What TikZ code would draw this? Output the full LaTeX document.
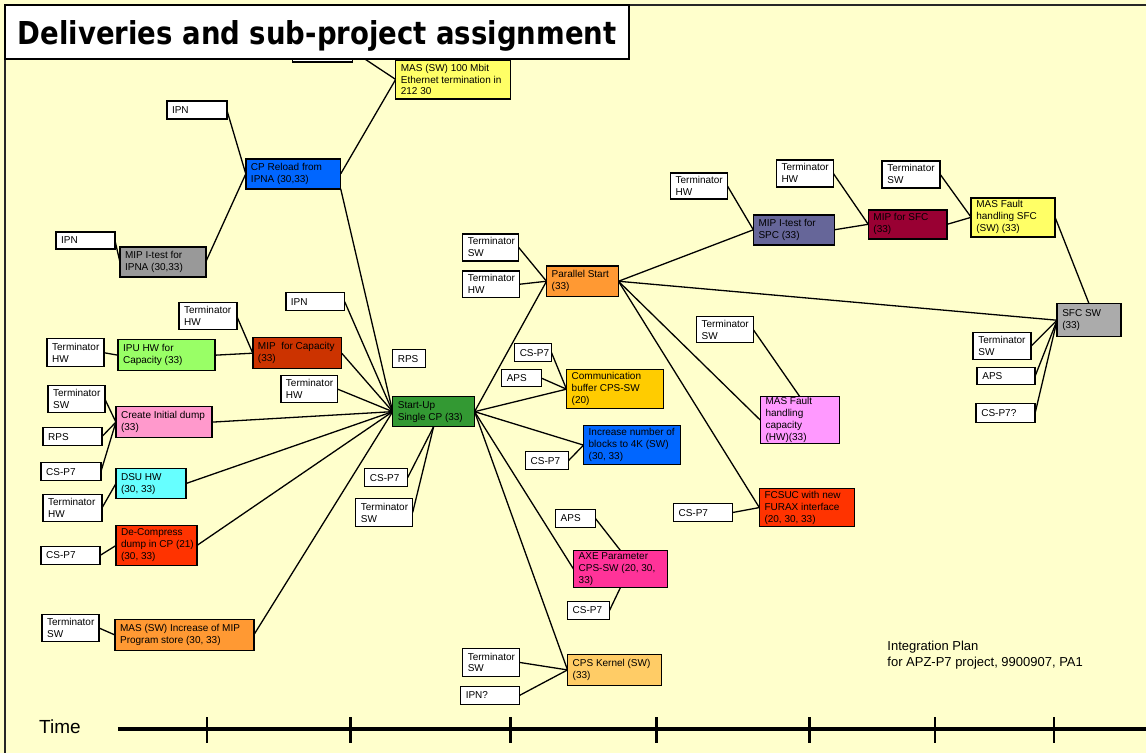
\documentclass[tikz,border=0pt]{standalone}
\usepackage{fontspec}
\setmainfont{Liberation Sans}
\newfontfamily\headfont{DejaVu Sans}
\usetikzlibrary{calc}

\definecolor{paper}{HTML}{FFFFCC}
\definecolor{cblue}{HTML}{0066FF}
\definecolor{cgray}{HTML}{999999}
\definecolor{cgraylt}{HTML}{ABABAB}
\definecolor{cyellow}{HTML}{FFFF66}
\definecolor{crust}{HTML}{CC3300}
\definecolor{clime}{HTML}{99FF66}
\definecolor{cpink}{HTML}{FF99CC}
\definecolor{ccyan}{HTML}{66FFFF}
\definecolor{cred}{HTML}{FF3300}
\definecolor{corange}{HTML}{FF9933}
\definecolor{cgreen}{HTML}{339933}
\definecolor{cgold}{HTML}{FFCC00}
\definecolor{cmagenta}{HTML}{FF3399}
\definecolor{capricot}{HTML}{FFCC66}
\definecolor{cviolet}{HTML}{FF99FF}
\definecolor{cslate}{HTML}{666699}
\definecolor{ccrimson}{HTML}{990033}

\pgfdeclarelayer{bg}
\pgfdeclarelayer{paperlayer}
\pgfsetlayers{paperlayer,bg,main}

% box: name, left, top, right, bottom, fill, text
\newcommand\mkbox[7]{%
  \node[boxst, fill=#6, minimum width={#4-#2}, minimum height={#5-#3}] (#1) at ({(#2+#4)/2},{(#3+#5)/2}) {};
  \node[txtst, anchor=west] (#1-t) at ({#2+5},{(#3+#5)/2}) {#7};
}

\begin{document}
\begin{tikzpicture}[x=1pt,y=-1pt,
  boxst/.style={draw=black, line width=1.5pt, rectangle, inner sep=0pt, outer sep=0pt},
  txtst/.style={align=left, inner sep=0pt, font=\fontsize{10}{12}\selectfont, text=black},
  link/.style={line width=1.3pt, black},
  tick/.style={line width=2.5pt, black}]

\begin{pgfonlayer}{paperlayer}
\fill[paper] (0,0) rectangle (1147,754);
% page frame (top and left edges)
\draw[line width=2pt, black!85] (1147,5) -- (5,5) -- (5,754);
\end{pgfonlayer}
\useasboundingbox (0,0) rectangle (1147,754);

% ---- upper left branch
\mkbox{hid}{293}{40}{353}{62}{white}{}
\mkbox{mas100}{396}{60}{511}{99}{cyellow}{MAS (SW) 100 Mbit\\Ethernet termination in\\212 30}
\mkbox{ipnA}{167}{101}{227}{119}{white}{IPN}
\mkbox{cpr}{246}{159}{341}{189}{cblue}{CP Reload from\\IPNA (30,33)}
\mkbox{ipnB}{56}{232}{115}{249}{white}{IPN}
\mkbox{mipipna}{120}{247}{206}{277}{cgray}{MIP I-test for\\IPNA (30,33)}

% ---- left branch
\mkbox{ipnC}{286}{293}{345}{311}{white}{IPN}
\mkbox{thwA}{179}{303}{237}{330}{white}{Terminator\\HW}
\mkbox{mipcap}{253}{338}{342}{369}{crust}{MIP\ \ for Capacity\\(33)}
\mkbox{thwB}{47}{339}{104}{367}{white}{Terminator\\HW}
\mkbox{ipu}{118}{340}{215}{371}{clime}{IPU HW for\\Capacity (33)}
\mkbox{thwC}{281}{376}{338}{403}{white}{Terminator\\HW}
\mkbox{tswA}{48}{386}{105}{413}{white}{Terminator\\SW}
\mkbox{cid}{116}{407}{212}{438}{cpink}{Create Initial dump\\(33)}
\mkbox{rpsA}{43}{428}{102}{446}{white}{RPS}
\mkbox{cspA}{41}{463}{101}{481}{white}{CS-P7}
\mkbox{dsu}{116}{469}{186}{499}{ccyan}{DSU HW\\(30, 33)}
\mkbox{thwD}{43}{495}{102}{522}{white}{Terminator\\HW}
\mkbox{decomp}{116}{526}{197}{566}{cred}{De-Compress\\dump in CP (21)\\(30, 33)}
\mkbox{cspB}{41}{547}{100}{565}{white}{CS-P7}
\mkbox{tswB}{42}{615}{99}{642}{white}{Terminator\\SW}
\mkbox{masinc}{115}{620}{254}{651}{corange}{MAS (SW) Increase of MIP\\Program store (30, 33)}

% ---- centre
\mkbox{rpsB}{393}{350}{426}{368}{white}{RPS}
\mkbox{su}{393}{397}{475}{427}{cgreen}{Start-Up\\Single CP (33)}
\mkbox{cspC}{365}{469}{408}{487}{white}{CS-P7}
\mkbox{tswC}{356}{499}{413}{527}{white}{Terminator\\SW}

% ---- right of start-up
\mkbox{tswE}{463}{234}{519}{261}{white}{Terminator\\SW}
\mkbox{thwE}{463}{271}{520}{298}{white}{Terminator\\HW}
\mkbox{ps}{547}{266}{619}{297}{corange}{Parallel Start\\(33)}
\mkbox{cspD}{515}{344}{552}{362}{white}{CS-P7}
\mkbox{apsA}{502}{370}{542}{387}{white}{APS}
\mkbox{comm}{567}{370}{664}{409}{cgold}{Communication\\buffer CPS-SW\\(20)}
\mkbox{inc}{584}{426}{681}{465}{cblue}{Increase number of\\blocks to 4K (SW)\\(30, 33)}
\mkbox{cspE}{526}{452}{569}{470}{white}{CS-P7}
\mkbox{apsB}{556}{510}{596}{528}{white}{APS}
\mkbox{axe}{574}{551}{668}{588}{cmagenta}{AXE Parameter\\CPS-SW (20, 30,\\33)}
\mkbox{cspF}{568}{602}{610}{620}{white}{CS-P7}
\mkbox{tswD}{463}{649}{520}{677}{white}{Terminator\\SW}
\mkbox{ipnQ}{461}{687}{520}{705}{white}{IPN?}
\mkbox{cps}{568}{655}{662}{686}{capricot}{CPS Kernel (SW)\\(33)}

% ---- right branch
\mkbox{thwF}{671}{173}{728}{199}{white}{Terminator\\HW}
\mkbox{mipspc}{754}{215}{835}{245}{cslate}{MIP I-test for\\SPC (33)}
\mkbox{thwG}{777}{160}{834}{187}{white}{Terminator\\HW}
\mkbox{mipsfc}{869}{210}{948}{239}{ccrimson}{MIP for SFC\\(33)}
\mkbox{tswF}{883}{161}{941}{188}{white}{Terminator\\SW}
\mkbox{masfsfc}{972}{198}{1056}{237}{cyellow}{MAS Fault\\handling SFC\\(SW) (33)}
\mkbox{sfc}{1058}{304}{1122}{337}{cgraylt}{SFC SW\\(33)}
\mkbox{tswG}{974}{333}{1032}{360}{white}{Terminator\\SW}
\mkbox{apsC}{978}{368}{1036}{385}{white}{APS}
\mkbox{cspQ}{977}{404}{1036}{423}{white}{CS-P7?}
\mkbox{tswH}{697}{317}{754}{343}{white}{Terminator\\SW}
\mkbox{masfc}{761}{397}{840}{444}{cviolet}{MAS Fault\\handling\\capacity\\(HW)(33)}
\mkbox{fcsuc}{760}{489}{855}{527}{cred}{FCSUC with new\\FURAX interface\\(20, 30, 33)}
\mkbox{cspG}{674}{504}{733}{522}{white}{CS-P7}

% ---- connectors
\begin{pgfonlayer}{bg}
\draw[link] (hid.east) -- (mas100.west);
\draw[link] (cpr.east) -- (mas100.west);
\draw[link] (ipnA.east) -- (cpr.west);
\draw[link] (mipipna.east) -- (cpr.west);
\draw[link] (ipnB.east) -- (mipipna.west);
\draw[link] (cpr.south east) -- (su.west);

\draw[link] (ipnC.east) -- (su.west);
\draw[link] (thwA.east) -- (mipcap.west);
\draw[link] (thwB.east) -- (ipu.west);
\draw[link] (ipu.east) -- (mipcap.west);
\draw[link] (mipcap.east) -- (su.west);
\draw[link] (thwC.east) -- (su.west);
\draw[link] (tswA.east) -- (cid.west);
\draw[link] (rpsA.east) -- (cid.west);
\draw[link] (cspA.east) -- (cid.west);
\draw[link] (cid.east) -- (su.west);
\draw[link] (thwD.east) -- (dsu.west);
\draw[link] (dsu.east) -- (su.west);
\draw[link] (cspB.east) -- (decomp.west);
\draw[link] (decomp.east) -- (su.west);
\draw[link] (tswB.east) -- (masinc.west);
\draw[link] (masinc.east) -- (su.west);
\draw[link] (su.south) -- (cspC.east);
\draw[link] (su.south) -- (tswC.east);

\draw[link] (su.east) -- (ps.west);
\draw[link] (su.east) -- (comm.west);
\draw[link] (su.east) -- (inc.west);
\draw[link] (su.east) -- (axe.west);
\draw[link] (su.east) -- (cps.west);
\draw[link] (tswE.east) -- (ps.west);
\draw[link] (thwE.east) -- (ps.west);
\draw[link] (cspD.east) -- (comm.west);
\draw[link] (apsA.east) -- (comm.west);
\draw[link] (cspE.east) -- (inc.west);
\draw[link] (apsB.east) -- (axe.north);
\draw[link] (axe.south) -- (cspF.east);
\draw[link] (tswD.east) -- (cps.west);
\draw[link] (ipnQ.east) -- (cps.west);

\draw[link] (ps.east) -- (mipspc.west);
\draw[link] (ps.east) -- (sfc.west);
\draw[link] (ps.east) -- (masfc.west);
\draw[link] (ps.east) -- (fcsuc.west);
\draw[link] (thwF.east) -- (mipspc.west);
\draw[link] (mipspc.east) -- (mipsfc.west);
\draw[link] (thwG.east) -- (mipsfc.west);
\draw[link] (mipsfc.east) -- (masfsfc.west);
\draw[link] (tswF.east) -- (masfsfc.west);
\draw[link] (masfsfc.east) -- (sfc.north);
\draw[link] (sfc.west) -- (tswG.east);
\draw[link] (sfc.west) -- (apsC.east);
\draw[link] (sfc.west) -- (cspQ.east);
\draw[link] (tswH.east) -- (masfc.north);
\draw[link] (cspG.east) -- (fcsuc.west);
\end{pgfonlayer}

% ---- heading
\node[draw=black, line width=2pt, fill=white, minimum width=625, minimum height=54,
      inner sep=0pt, outer sep=0pt] (title) at (317.5,32) {};
\node[anchor=base, inner sep=0pt] (title-t) at (317.5,45)
  {\resizebox{599pt}{24pt}{\headfont\bfseries Deliveries and sub-project assignment}};

% ---- footnote
\node[anchor=base west, inner sep=0pt, font=\fontsize{13}{15}\selectfont] (ip1) at (888,651) {Integration Plan};
\node[anchor=base west, inner sep=0pt, font=\fontsize{13}{15}\selectfont] (ip2) at (888,667) {for APZ-P7 project, 9900907, PA1};

% ---- time axis
\node[anchor=base west, inner sep=0pt, font=\fontsize{19}{22}\selectfont] (time) at (39,734) {Time};
\coordinate (ax0) at (118,730);
\coordinate (ax1) at (1147,730);
\draw[line width=4pt] (ax0) -- (ax1);
\foreach \tx in {207,351,511,657,810,936,1055}
  \draw[tick] (\tx,718) -- (\tx,744);

\end{tikzpicture}
\end{document}
